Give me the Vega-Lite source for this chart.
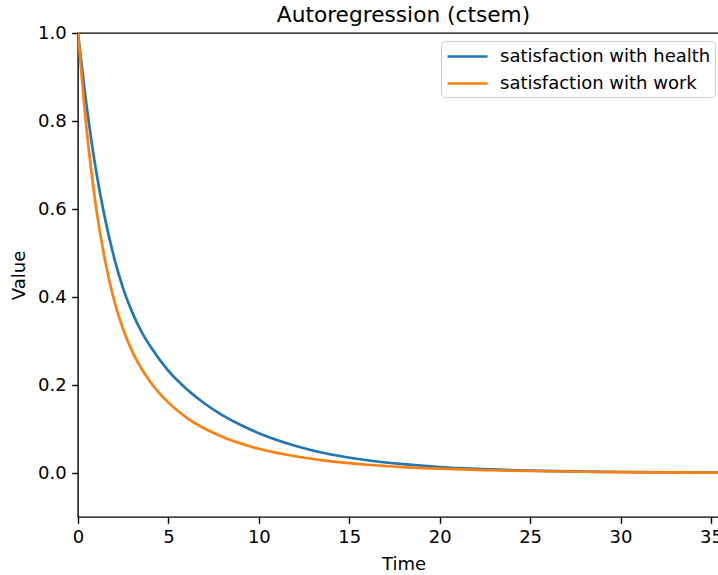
{
  "$schema": "https://vega.github.io/schema/vega-lite/v6.json",
  "autosize": {"type": "none"},
  "padding": {"left": 78, "top": 33, "right": 0, "bottom": 58},
  "width": 651,
  "height": 484,
  "background": "white",
  "title": {"text": "Autoregression (ctsem)", "font": "DejaVu Sans", "fontSize": 21.7, "fontWeight": "normal", "color": "black", "anchor": "middle", "offset": -3},
  "data": {"values": [
    {"t": 0, "v": 1.0, "s": "satisfaction with health"},
    {"t": 0.5, "v": 0.827, "s": "satisfaction with health"},
    {"t": 1, "v": 0.687, "s": "satisfaction with health"},
    {"t": 1.5, "v": 0.577, "s": "satisfaction with health"},
    {"t": 2, "v": 0.489, "s": "satisfaction with health"},
    {"t": 2.5, "v": 0.419, "s": "satisfaction with health"},
    {"t": 3, "v": 0.365, "s": "satisfaction with health"},
    {"t": 3.5, "v": 0.322, "s": "satisfaction with health"},
    {"t": 4, "v": 0.288, "s": "satisfaction with health"},
    {"t": 5, "v": 0.232, "s": "satisfaction with health"},
    {"t": 6, "v": 0.191, "s": "satisfaction with health"},
    {"t": 7, "v": 0.158, "s": "satisfaction with health"},
    {"t": 8, "v": 0.131, "s": "satisfaction with health"},
    {"t": 9, "v": 0.109, "s": "satisfaction with health"},
    {"t": 10, "v": 0.0905, "s": "satisfaction with health"},
    {"t": 12, "v": 0.062, "s": "satisfaction with health"},
    {"t": 14, "v": 0.042, "s": "satisfaction with health"},
    {"t": 16, "v": 0.029, "s": "satisfaction with health"},
    {"t": 18, "v": 0.02, "s": "satisfaction with health"},
    {"t": 20, "v": 0.0135, "s": "satisfaction with health"},
    {"t": 22, "v": 0.0093, "s": "satisfaction with health"},
    {"t": 25, "v": 0.0055, "s": "satisfaction with health"},
    {"t": 28, "v": 0.0032, "s": "satisfaction with health"},
    {"t": 30, "v": 0.0023, "s": "satisfaction with health"},
    {"t": 33, "v": 0.0013, "s": "satisfaction with health"},
    {"t": 36, "v": 0.0008, "s": "satisfaction with health"},
    {"t": 0, "v": 1.0, "s": "satisfaction with work"},
    {"t": 0.5, "v": 0.771, "s": "satisfaction with work"},
    {"t": 1, "v": 0.603, "s": "satisfaction with work"},
    {"t": 1.5, "v": 0.482, "s": "satisfaction with work"},
    {"t": 2, "v": 0.392, "s": "satisfaction with work"},
    {"t": 2.5, "v": 0.326, "s": "satisfaction with work"},
    {"t": 3, "v": 0.276, "s": "satisfaction with work"},
    {"t": 3.5, "v": 0.238, "s": "satisfaction with work"},
    {"t": 4, "v": 0.207, "s": "satisfaction with work"},
    {"t": 5, "v": 0.16, "s": "satisfaction with work"},
    {"t": 6, "v": 0.126, "s": "satisfaction with work"},
    {"t": 7, "v": 0.101, "s": "satisfaction with work"},
    {"t": 8, "v": 0.082, "s": "satisfaction with work"},
    {"t": 9, "v": 0.067, "s": "satisfaction with work"},
    {"t": 10, "v": 0.055, "s": "satisfaction with work"},
    {"t": 12, "v": 0.038, "s": "satisfaction with work"},
    {"t": 14, "v": 0.0264, "s": "satisfaction with work"},
    {"t": 16, "v": 0.0188, "s": "satisfaction with work"},
    {"t": 18, "v": 0.0135, "s": "satisfaction with work"},
    {"t": 20, "v": 0.0098, "s": "satisfaction with work"},
    {"t": 22, "v": 0.0071, "s": "satisfaction with work"},
    {"t": 25, "v": 0.0045, "s": "satisfaction with work"},
    {"t": 28, "v": 0.0028, "s": "satisfaction with work"},
    {"t": 30, "v": 0.002, "s": "satisfaction with work"},
    {"t": 33, "v": 0.0012, "s": "satisfaction with work"},
    {"t": 36, "v": 0.0007, "s": "satisfaction with work"}
  ]},
  "mark": {"type": "line", "strokeWidth": 2.7, "interpolate": "monotone", "clip": true},
  "encoding": {
    "x": {"field": "t", "type": "quantitative", "title": "Time",
      "scale": {"domain": [0, 36], "nice": false, "zero": false},
      "axis": {"values": [0, 5, 10, 15, 20, 25, 30, 35], "format": "d", "labelFlush": false}},
    "y": {"field": "v", "type": "quantitative", "title": "Value",
      "scale": {"domain": [-0.1, 1.0], "nice": false, "zero": false},
      "axis": {"values": [0, 0.2, 0.4, 0.6, 0.8, 1.0], "format": ".1f", "labelFlush": false}},
    "color": {"field": "s", "type": "nominal",
      "scale": {"domain": ["satisfaction with health", "satisfaction with work"], "range": ["#1f77b4", "#ff7f0e"]},
      "legend": {"title": null, "orient": "none", "legendX": 363, "legendY": 8}}
  },
  "config": {
    "view": {"stroke": "black", "strokeWidth": 1.4},
    "axis": {
      "grid": false, "domain": false,
      "ticks": true, "tickColor": "black", "tickSize": 6.3, "tickWidth": 1.4,
      "labelFont": "DejaVu Sans", "labelFontSize": 18, "labelColor": "black", "labelPadding": 5.5,
      "titleFont": "DejaVu Sans", "titleFontSize": 18, "titleFontWeight": "normal", "titleColor": "black", "titlePadding": 9
    },
    "legend": {
      "labelFont": "DejaVu Sans", "labelFontSize": 18, "labelColor": "black", "labelLimit": 500,
      "symbolType": "M-2,0H2", "symbolSize": 400, "symbolStrokeWidth": 2.7, "symbolOffset": 11,
      "labelOffset": 21, "rowPadding": 6, "padding": 4,
      "strokeColor": "#cccccc", "fillColor": "rgba(255,255,255,0.8)", "cornerRadius": 4
    }
  }
}
